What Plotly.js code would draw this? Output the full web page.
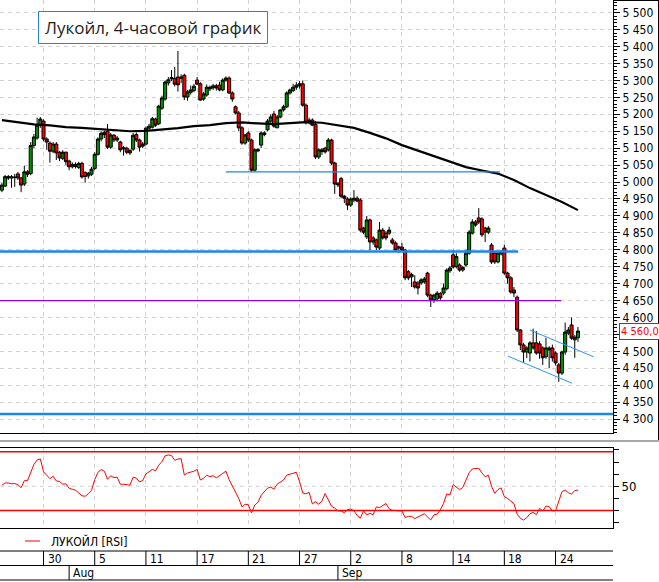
<!DOCTYPE html>
<html><head><meta charset="utf-8">
<script src="https://cdn.plot.ly/plotly-3.0.1.min.js"></script>
<style>html,body{margin:0;padding:0;background:#fff;overflow:hidden}#chart{width:659px;height:582px}</style>
</head><body><div id="chart"></div>
<script>
// ---- data (4-hour candles, 27 Jul – 25 Sep) ----
const openP = [4976,4988,5016,5012,5015,5024,5012,4994,5030,5025,
5108,5130,5168,5180,5127,5115,5091,5112,5088,5070,
5088,5062,5045,5052,5043,5055,5028,5018,5023,5040,
5082,5127,5147,5150,5103,5138,5124,5118,5098,5100,
5093,5097,5140,5124,5106,5112,5159,5162,5186,5172,
5218,5245,5293,5305,5306,5310,5306,5315,5251,5265,
5270,5301,5290,5245,5257,5275,5278,5284,5286,5272,
5301,5307,5263,5222,5204,5160,5115,5145,5124,5035,
5092,5109,5140,5154,5180,5201,5160,5192,5213,5222,
5263,5270,5280,5284,5290,5227,5177,5183,5170,5074,
5090,5100,5095,5124,5056,4995,5010,4958,4950,4932,
4947,4952,4947,4864,4838,4888,4835,4829,4805,4858,
4849,4849,4829,4820,4805,4808,4799,4735,4720,4705,
4702,4702,4705,4731,4666,4652,4655,4670,4672,4685,
4738,4785,4750,4755,4740,4755,4790,4849,4882,4894,
4891,4864,4852,4814,4790,4764,4788,4805,4731,4717,
4681,4660,4563,4519,4498,4495,4525,4525,4522,4510,
4484,4504,4510,4495,4460,4436,4498,4554,4578,4534,
4540];
const highP = [4997,5021,5021,5021,5024,5030,5015,5048,5035,5118,
5142,5190,5192,5185,5132,5120,5118,5118,5092,5094,
5090,5066,5058,5058,5060,5060,5032,5030,5045,5088,
5132,5150,5152,5171,5145,5142,5136,5122,5106,5104,
5097,5145,5146,5128,5118,5164,5172,5192,5190,5228,
5255,5300,5310,5331,5340,5387,5318,5320,5272,5285,
5290,5310,5295,5266,5288,5285,5290,5290,5296,5306,
5312,5312,5268,5226,5210,5165,5142,5150,5128,5100,
5100,5150,5150,5186,5200,5210,5198,5215,5228,5268,
5276,5290,5295,5298,5300,5232,5190,5188,5180,5100,
5100,5104,5130,5128,5060,5000,5015,4962,4955,4955,
4976,4958,4952,4868,4900,4892,4840,4833,4882,4864,
4855,4868,4835,4825,4812,4820,4803,4740,4732,4725,
4708,4716,4720,4735,4670,4670,4678,4675,4700,4745,
4752,4800,4790,4760,4752,4800,4858,4890,4888,4923,
4896,4868,4870,4820,4795,4795,4798,4815,4735,4722,
4690,4665,4566,4525,4515,4530,4567,4560,4530,4515,
4540,4515,4520,4500,4466,4502,4585,4572,4600,4548,
4572];
const lowP = [4970,4985,5006,4983,4986,5006,4970,4988,5015,5020,
5100,5125,5160,5120,5095,5057,5085,5065,5062,5065,
5050,5035,5040,5040,5038,5010,4998,5010,5018,5035,
5078,5120,5130,5098,5098,5118,5118,5088,5078,5082,
5080,5092,5118,5090,5100,5108,5152,5158,5163,5168,
5213,5240,5285,5298,5282,5267,5292,5242,5240,5258,
5265,5286,5240,5240,5252,5268,5272,5270,5268,5268,
5296,5260,5237,5200,5150,5110,5110,5118,5030,5030,
5088,5100,5135,5150,5172,5160,5160,5188,5208,5218,
5258,5266,5272,5276,5222,5170,5170,5165,5068,5068,
5080,5084,5090,5050,4965,4985,4952,4938,4917,4926,
4940,4940,4852,4846,4832,4799,4815,4799,4800,4830,
4828,4843,4815,4794,4790,4795,4710,4710,4690,4685,
4668,4696,4700,4660,4631,4643,4648,4652,4666,4680,
4732,4744,4745,4735,4735,4750,4785,4845,4868,4876,
4838,4823,4846,4758,4758,4760,4783,4726,4700,4670,
4660,4557,4504,4466,4480,4470,4505,4490,4478,4460,
4478,4450,4470,4458,4410,4430,4490,4548,4534,4481,
4528];
const closeP = [4991,5016,5012,5015,5013,5012,4991,5030,5023,5108,
5133,5168,5186,5127,5118,5091,5112,5086,5071,5088,
5060,5045,5052,5046,5055,5015,5016,5026,5038,5082,
5127,5144,5140,5103,5139,5124,5130,5095,5101,5088,
5086,5138,5124,5103,5112,5159,5165,5187,5168,5224,
5248,5295,5302,5308,5289,5287,5310,5251,5266,5272,
5283,5289,5242,5260,5280,5280,5284,5278,5272,5301,
5307,5263,5245,5204,5160,5115,5139,5124,5035,5095,
5095,5145,5145,5180,5192,5165,5192,5213,5222,5263,
5272,5280,5286,5290,5227,5177,5183,5168,5074,5095,
5095,5089,5124,5056,4994,4992,4958,4952,4932,4950,
4952,4944,4858,4852,4888,4823,4823,4808,4858,4835,
4835,4858,4820,4799,4808,4799,4717,4717,4727,4690,
4687,4711,4714,4666,4652,4666,4672,4658,4687,4740,
4746,4749,4780,4740,4748,4790,4852,4882,4873,4882,
4844,4852,4864,4764,4764,4790,4793,4731,4717,4675,
4672,4563,4519,4498,4510,4525,4510,4495,4495,4481,
4510,4510,4481,4466,4436,4498,4557,4563,4539,4542,
4560];
// 200-period moving average, read every 5th candle
const maIdx = [0,5,10,15,20,25,30,35,40,45,50,55,60,65,70,75,80,85,90,95,100,105,110,115,120,125,130,135,140,145,150,155,160,165,170,175,180];
const maVal = [5183,5177,5170,5167,5162,5160,5157,5152,5150,5151,5154,5159,5165,5168,5174,5176,5173,5171,5174,5177,5175,5168,5160,5145,5129,5109,5093,5077,5062,5044,5034,5025,5006,4982,4962,4941,4917];
// RSI, one value per candle
const rsiVal = [51,52.8,52.7,52.1,52.3,51.3,48.8,54.6,54.8,61,
68,71.7,72.6,62,59.4,56.3,58.3,54.4,54,51.8,
52,48.4,47.5,46.8,44.5,42.2,41.8,43.9,46.8,55.5,
61.6,63.8,62.5,55.8,58.7,57.2,57.6,51.7,51.7,51.6,
51,57.5,56.8,53.6,54.8,60.2,61.8,64,62.8,67.5,
70.3,75.2,75.9,75.4,71.5,72.5,72.8,59.3,61,61.8,
62.5,64,55.2,56.6,59.2,58,58.7,57,59,60.8,
62.5,55.5,50.5,45.4,40,33,35.1,34.8,28,34.5,
36.7,42.5,45.2,48.5,49.3,47.7,51.7,53.6,55.2,59.2,
59.9,60.6,61.6,54,44.5,43.8,45,35.5,37.3,35.2,
37.9,44,39,33.5,32,29.7,29.6,28.2,30.8,31.2,
29.8,26,23.6,29.6,26.4,27.6,26.5,33,32.4,34,
35.8,31.5,30.2,29.9,29.8,29.6,24.2,25.1,25.2,23.3,
24.7,26,27.3,24.7,22.2,26.4,27,30.5,35.9,43.7,
42.9,51.4,49,47.2,49,54.6,61.2,64.4,64.5,64.9,
61,57.9,59.2,50,44.2,47.3,48.7,41.4,40,38,
35.6,27,23.6,22.1,24,27.4,28.4,26.6,31.8,29.6,
33.7,33.2,29.7,29.8,37,45.5,46.9,44.7,43.5,46.5,
46.9];
const rsiLevels = [78.5, 30];
const rsiMid = 50;
const rsiTicks = [20,30,40,50,60,70,80];
const rsiTickText = ['','','','50','','',''];
const priceTicks = [4300,4350,4400,4450,4500,4550,4600,4650,4700,4750,4800,4850,4900,4950,5000,5050,5100,5150,5200,5250,5300,5350,5400,5450,5500];
const dayLabels = ['30','5','11','17','21','27','2','8','14','18','24'];
const dayStartIdx = [13,29,45,61,77,93,109,125,141,157,173];
const monthLabels = ['Aug','Sep'];
const monthStartIdx = [21,105];
// support / resistance levels: price, first candle, last candle
const levelPrice = [5030, 4795, 4650, 4315];
const levelFrom = [70, -0.6, -0.6, -0.6];
const levelTo = [155.6, 161.3, 174.7, 190.95];
// descending channel
const chanUpIdx = [165, 184.9], chanUpPrice = [4563, 4484];
const chanLoIdx = [158.1, 178.1], chanLoPrice = [4486, 4406];
const titleText = 'Лукойл, 4-часовой график';
const rsiName = 'ЛУКОЙЛ [RSI]';

// ---- drawing ----
const W = 659, H = 582;
const px = v => v / W, py = v => 1 - v / H;
const narrow = "'Liberation Sans Narrow','Arial Narrow','DejaVu Sans Condensed',Arial,sans-serif";
const fmt = (v, d) => { const s = v.toFixed(d).split('.'); const ip = s[0].replace(/\B(?=(\d{3})+(?!\d))/g, ' '); return s[1] ? ip + ',' + s[1] : ip; };
const idx = closeP.map((_, i) => i);
const xRange = [-0.6, 190.95];
const blue = '#1c86ee';
const levelStyle = [
  {color: blue, width: 1.3},
  {color: blue, width: 2.5},
  {color: '#8f00ff', width: 1.3},
  {color: blue, width: 2.5}
];
const last = closeP[closeP.length - 1];

const traces = [];
traces.push({type: 'candlestick', x: idx, open: openP, high: highP, low: lowP, close: closeP,
  xaxis: 'x', yaxis: 'y', whiskerwidth: 0, hoverinfo: 'skip',
  increasing: {line: {color: '#000', width: 1}, fillcolor: '#009000'},
  decreasing: {line: {color: '#000', width: 1}, fillcolor: '#ff0000'}});
traces.push({type: 'scatter', mode: 'lines', x: maIdx, y: maVal, xaxis: 'x', yaxis: 'y',
  line: {color: '#000', width: 2.2}, hoverinfo: 'skip'});
levelPrice.forEach((p, k) => traces.push({type: 'scatter', mode: 'lines', x: [levelFrom[k], levelTo[k]], y: [p, p],
  xaxis: 'x', yaxis: 'y', line: levelStyle[k], hoverinfo: 'skip', cliponaxis: true}));
traces.push({type: 'scatter', mode: 'lines', x: chanUpIdx, y: chanUpPrice, xaxis: 'x', yaxis: 'y', line: {color: '#2b95ff', width: 1}, hoverinfo: 'skip'});
traces.push({type: 'scatter', mode: 'lines', x: chanLoIdx, y: chanLoPrice, xaxis: 'x', yaxis: 'y', line: {color: '#2b95ff', width: 1}, hoverinfo: 'skip'});
traces.push({type: 'scatter', mode: 'lines', x: idx, y: rsiVal, xaxis: 'x2', yaxis: 'y2', name: rsiName,
  line: {color: '#ff0000', width: 1}, hoverinfo: 'skip'});

const gridCol = '#d2d2d2', gridDash = '4px,4px';
const shapes = [];
shapes.push({type: 'line', xref: 'x2 domain', yref: 'y2', x0: 0, x1: 1, y0: rsiMid, y1: rsiMid, line: {color: gridCol, width: 1, dash: gridDash}, layer: 'below'});
rsiLevels.forEach(l => shapes.push({type: 'line', xref: 'x2 domain', yref: 'y2', x0: 0, x1: 1, y0: l, y1: l, line: {color: '#ff0000', width: 1.5}}));
shapes.push({type: 'rect', xref: 'paper', yref: 'paper', x0: px(38.5), x1: px(267.5), y0: py(43.5), y1: py(11.5), line: {color: '#2a7de1', width: 1}, fillcolor: '#fff', layer: 'above'});
shapes.push({type: 'line', xref: 'paper', yref: 'paper', x0: 0, x1: 1, y0: py(441), y1: py(441), line: {color: '#a8a8a8', width: 2}});
shapes.push({type: 'line', xref: 'paper', yref: 'paper', x0: px(613), x1: 1, y0: py(0.5), y1: py(0.5), line: {color: '#000', width: 1}});
shapes.push({type: 'line', xref: 'paper', yref: 'paper', x0: px(658.5), x1: px(658.5), y0: py(0), y1: py(440), line: {color: '#000', width: 1}});
[551, 565.5, 580].forEach(yv => shapes.push({type: 'line', xref: 'paper', yref: 'paper', x0: 0, x1: px(613), y0: py(yv), y1: py(yv), line: {color: '#000', width: 1}}));
dayStartIdx.forEach(d => shapes.push({type: 'line', xref: 'x', yref: 'paper', x0: d, x1: d, y0: py(551), y1: py(565.5), line: {color: '#000', width: 1}}));
monthStartIdx.forEach(d => shapes.push({type: 'line', xref: 'x', yref: 'paper', x0: d, x1: d, y0: py(565.5), y1: py(580), line: {color: '#000', width: 1}}));
shapes.push({type: 'line', xref: 'paper', yref: 'paper', x0: px(25), x1: px(40), y0: py(541), y1: py(541), line: {color: '#ff0000', width: 1}});

const annotations = [];
annotations.push({xref: 'paper', yref: 'paper', x: px(153), y: py(27.5), text: titleText, showarrow: false, xanchor: 'center', yanchor: 'middle',
  font: {family: "'Open Sans','Noto Sans',sans-serif", size: 17, color: '#1e1e1e'}});
dayLabels.forEach((t, k) => annotations.push({xref: 'x', yref: 'paper', x: dayStartIdx[k], y: py(558.5), text: t, showarrow: false,
  xanchor: 'left', yanchor: 'middle', xshift: 2, font: {family: narrow, size: 12, color: '#000'}}));
monthLabels.forEach((t, k) => annotations.push({xref: 'x', yref: 'paper', x: monthStartIdx[k], y: py(573), text: t, showarrow: false,
  xanchor: 'left', yanchor: 'middle', xshift: 2, font: {family: narrow, size: 12, color: '#000'}}));
annotations.push({xref: 'paper', yref: 'paper', x: px(49), y: py(541), text: rsiName, showarrow: false, xanchor: 'left', yanchor: 'middle',
  font: {family: narrow, size: 12, color: '#000'}});
annotations.push({xref: 'paper', yref: 'y', x: px(619), y: last, text: fmt(last, 1), showarrow: false, xanchor: 'left', yanchor: 'middle',
  font: {family: narrow, size: 11, color: '#ff0000'}, bordercolor: '#ff0000', borderwidth: 1, borderpad: 1, bgcolor: '#fff'});

// the last-price box replaces the nearest tick label
const tickText = priceTicks.map(v => Math.abs(v - last) < 25 ? '' : fmt(v, 0));

const axisLine = {showline: true, mirror: true, linecolor: '#000', linewidth: 1, zeroline: false};
const layout = {
  width: W, height: H, margin: {l: 0, r: 0, t: 0, b: 0, pad: 0},
  paper_bgcolor: '#fff', plot_bgcolor: '#fff', showlegend: false, separators: ', ',
  boxgap: 0.05, boxgroupgap: 0,
  xaxis: Object.assign({domain: [0, px(613)], range: xRange, anchor: 'y', tickmode: 'array', tickvals: dayStartIdx,
    showticklabels: false, ticks: '', showgrid: true, gridcolor: gridCol, griddash: gridDash, gridwidth: 1,
    rangeslider: {visible: false}, fixedrange: true}, axisLine),
  yaxis: Object.assign({domain: [py(433), 1], range: [4258.9, 5537.5], side: 'right', anchor: 'x',
    tickmode: 'array', tickvals: priceTicks, ticktext: tickText,
    ticks: 'outside', ticklen: 6, tickcolor: '#000', tickwidth: 1,
    minor: {tickmode: 'linear', tick0: 0, dtick: 10, ticks: 'outside', ticklen: 3, tickcolor: '#000', showgrid: false},
    showgrid: true, gridcolor: gridCol, griddash: gridDash, gridwidth: 1,
    tickfont: {family: narrow, size: 12, color: '#000'}, fixedrange: true}, axisLine),
  xaxis2: Object.assign({domain: [0, px(613)], range: xRange, anchor: 'y2', tickmode: 'array', tickvals: dayStartIdx,
    showticklabels: false, ticks: '', showgrid: true, gridcolor: gridCol, griddash: gridDash, gridwidth: 1,
    rangeslider: {visible: false}, fixedrange: true}, axisLine),
  yaxis2: Object.assign({domain: [py(527.7), py(448.3)], range: [15.8, 81.4], side: 'right', anchor: 'x2',
    tickmode: 'array', tickvals: rsiTicks, ticktext: rsiTickText, ticks: 'outside', ticklen: 5, tickcolor: '#000',
    showgrid: false, tickfont: {family: narrow, size: 13, color: '#000'}, fixedrange: true}, axisLine),
  shapes: shapes, annotations: annotations
};
Plotly.newPlot('chart', traces, layout, {staticPlot: true, displayModeBar: false});
</script>
</body></html>
